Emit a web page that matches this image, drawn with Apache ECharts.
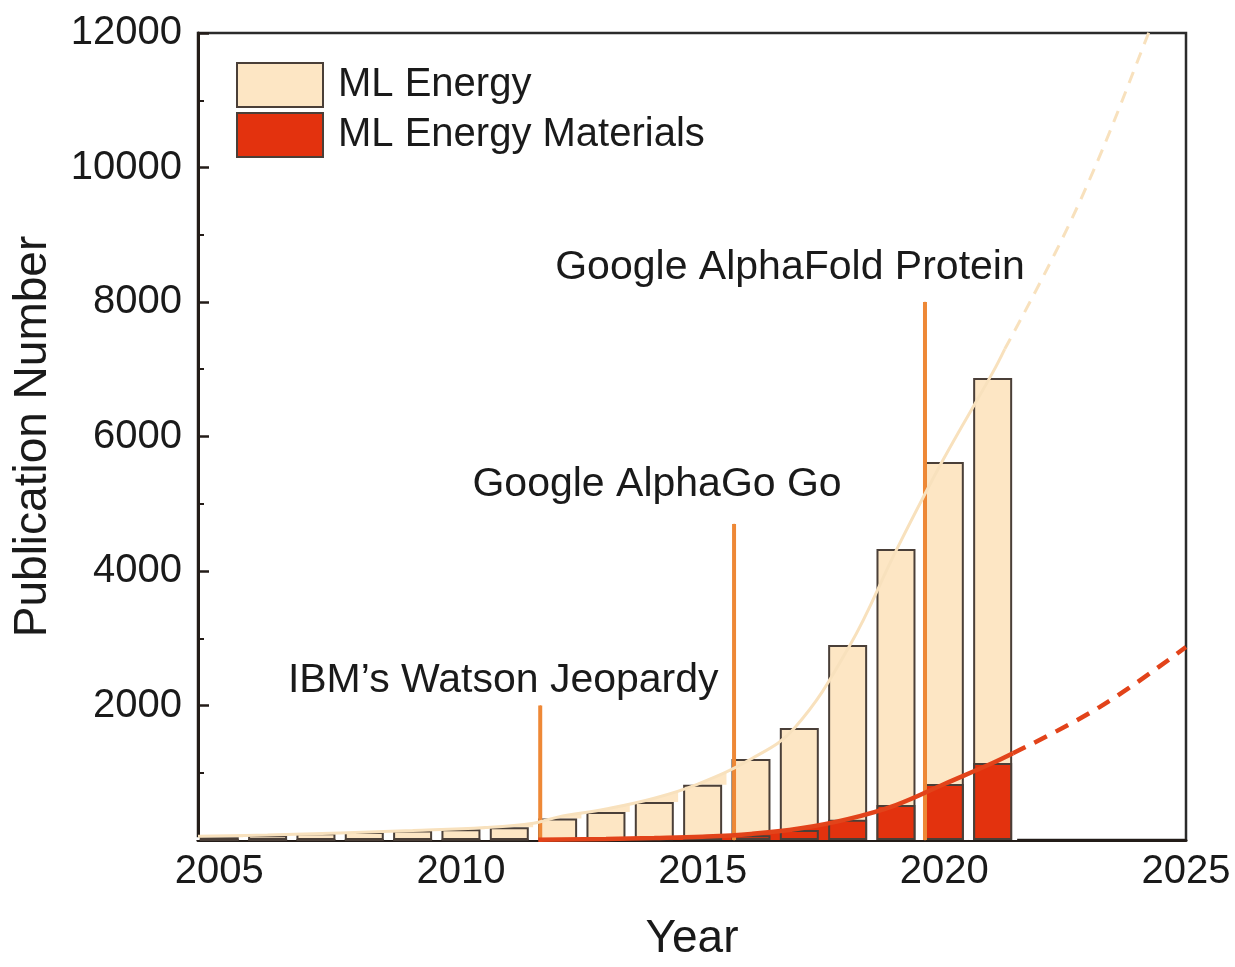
<!DOCTYPE html>
<html><head><meta charset="utf-8">
<script src="https://cdn.jsdelivr.net/npm/echarts@6/dist/echarts.min.js"></script>
<style>html,body{margin:0;padding:0;background:#fff}#c{width:1235px;height:967px}</style>
</head><body><div id="c"></div>
<script>
// ---- data ----
const years = [2005, 2006, 2007, 2008, 2009, 2010, 2011, 2012, 2013, 2014, 2015, 2016, 2017, 2018, 2019, 2020, 2021];
const mlEnergy = [40, 70, 100, 120, 140, 160, 190, 320, 416, 565, 820, 1204, 1665, 2900, 4327, 5620, 6870];
const mlEnergyMaterials = [0, 0, 0, 0, 0, 4, 6, 10, 15, 25, 42, 70, 150, 300, 520, 833, 1145];

const energyFitYears = [2004.56, 2006, 2007.5, 2009, 2010.5, 2011.5, 2012, 2013, 2014, 2014.9, 2016, 2016.9, 2018.05, 2019, 2019.95, 2021, 2021.25];
const energyFitValues = [55, 75, 105, 140, 185, 250, 340, 460, 620, 830, 1204, 1665, 2900, 4300, 5620, 6950, 7300];
const energyTrendYears = [2021.25, 2022.75, 2024.21, 2024.5];
const energyTrendValues = [7300, 9410, 11970, 12600];

const materialsFitYears = [2011.6, 2013, 2014, 2015, 2016, 2017, 2018, 2019, 2020, 2021, 2021.42];
const materialsFitValues = [5, 15, 28, 48, 90, 170, 310, 520, 833, 1145, 1290];
const materialsTrendYears = [2021.42, 2023.22, 2025];
const materialsTrendValues = [1290, 1980, 2870];

const eventNames = ['IBM\u2019s Watson Jeopardy', 'Google AlphaGo Go', 'Google AlphaFold Protein'];
const eventYears = [2011.64, 2015.65, 2019.6];
const eventTops = [2000, 4700, 8000];

const xTickYears = [2005, 2010, 2015, 2020, 2025];
const yTickValues = [2000, 4000, 6000, 8000, 10000, 12000];

// ---- styles ----
const FONT = 'Liberation Sans, Arial, sans-serif';
const TXT = '#1a1a1a';
const AX = '#231c18';
const BEIGE = '#fde6c4';
const BEIGE_LINE = '#f8e1bd';
const RED = '#e3320e';
const RED_LINE = '#e2431a';
const ORANGE = '#ee8836';
const BORDER = '#4a3f38';
const eventLabelOffsets = [[-37, -4], [-77, -18], [-135, -13]];

const zip = (xs, ys) => xs.map((x, i) => [x, ys[i]]);
const energyFit = zip(energyFitYears, energyFitValues);
const materialsFit = zip(materialsFitYears, materialsFitValues);

const series = [
  { type: 'line', name: 'energyArea', xAxisIndex: 0, data: energyFit.filter(p => p[0] <= 2016),
    smooth: 0.4, symbol: 'none', lineStyle: { width: 0 }, areaStyle: { color: BEIGE, opacity: 1 }, z: 1, silent: true },
  { type: 'bar', name: 'backing', xAxisIndex: 1, data: zip(years, mlEnergy), barWidth: 49,
    itemStyle: { color: '#ffffff' }, z: 2, silent: true },
  { type: 'bar', name: 'ML Energy', xAxisIndex: 0, data: zip(years, mlEnergy), barWidth: 39, barGap: '-100%',
    itemStyle: { color: BEIGE, borderColor: BORDER, borderWidth: 2 }, z: 3 },
  { type: 'line', name: 'materialsArea', xAxisIndex: 0, data: materialsFit.filter(p => p[0] <= 2018),
    smooth: 0.4, symbol: 'none', lineStyle: { width: 0 }, areaStyle: { color: RED, opacity: 1 }, z: 4, silent: true },
  { type: 'bar', name: 'ML Energy Materials', xAxisIndex: 0, data: zip(years, mlEnergyMaterials), barWidth: 39, barGap: '-100%',
    itemStyle: { color: RED, borderColor: BORDER, borderWidth: 2 }, z: 5 },
];

eventYears.forEach((y, i) => {
  series.push({
    type: 'line', name: 'event' + i, xAxisIndex: 0, z: 6, silent: true,
    symbol: 'circle', symbolSize: 1, itemStyle: { color: ORANGE },
    lineStyle: { color: ORANGE, width: 4 },
    data: [
      { value: [y, 0] },
      { value: [y, eventTops[i]],
        label: { show: true, position: 'top', distance: 0, offset: eventLabelOffsets[i],
                 formatter: eventNames[i], fontSize: 41, fontFamily: FONT, color: TXT } }
    ]
  });
});

series.push(
  { type: 'line', name: 'energyFit', xAxisIndex: 0, data: energyFit, smooth: 0.4, symbol: 'none',
    lineStyle: { color: BEIGE_LINE, width: 3 }, z: 7, silent: true },
  { type: 'line', name: 'energyTrend', xAxisIndex: 0, data: zip(energyTrendYears, energyTrendValues), smooth: 0.4, symbol: 'none',
    lineStyle: { color: BEIGE_LINE, width: 3, type: [12, 9] }, z: 7, silent: true },
  { type: 'line', name: 'materialsFit', xAxisIndex: 0, data: materialsFit, smooth: 0.4, symbol: 'none',
    lineStyle: { color: RED_LINE, width: 4.5 }, z: 8, silent: true },
  { type: 'line', name: 'materialsTrend', xAxisIndex: 0, data: zip(materialsTrendYears, materialsTrendValues), smooth: 0.4, symbol: 'none',
    lineStyle: { color: RED_LINE, width: 4.5, type: [14, 10] }, z: 8, silent: true }
);

const chart = echarts.init(document.getElementById('c'), null, { renderer: 'canvas' });
chart.setOption({
  animation: false,
  backgroundColor: '#ffffff',
  textStyle: { fontFamily: FONT },
  grid: { left: 198, right: 49, top: 33, bottom: 127, show: true, borderColor: '#2b2b2b', borderWidth: 2.5, backgroundColor: '#ffffff' },
  legend: {
    data: ['ML Energy', 'ML Energy Materials'], orient: 'vertical', left: 236, top: 62, padding: 0,
    itemWidth: 86, itemHeight: 44, itemGap: 4, icon: 'rect', selectedMode: false,
    textStyle: { fontSize: 40, color: TXT, fontFamily: FONT, padding: [0, 0, 0, 10] },
    itemStyle: { borderColor: BORDER, borderWidth: 2 }
  },
  xAxis: [
    { type: 'value', min: 2004.56, max: 2025, position: 'bottom',
      axisLine: { show: true, lineStyle: { color: AX, width: 3 } },
      axisTick: { show: false }, splitLine: { show: false },
      axisLabel: { customValues: xTickYears, formatter: v => String(v), fontSize: 40, color: TXT, fontFamily: FONT, margin: 12 },
      name: 'Year', nameLocation: 'middle', nameGap: 76,
      nameTextStyle: { fontSize: 46, color: TXT, fontFamily: FONT } },
    { type: 'value', min: 2004.56, max: 2025, show: false }
  ],
  yAxis: {
    type: 'value', min: 0, max: 12000, interval: 2000,
    axisLine: { show: true, lineStyle: { color: AX, width: 3 } },
    axisTick: { show: true, inside: true, length: 11, lineStyle: { color: AX, width: 2.5 } },
    minorTick: { show: true, splitNumber: 2, length: 6, lineStyle: { color: AX, width: 2 } },
    splitLine: { show: false },
    axisLabel: { customValues: yTickValues, formatter: v => String(v), fontSize: 40, color: TXT, fontFamily: FONT, margin: 16 },
    name: 'Publication Number', nameLocation: 'middle', nameGap: 142,
    nameTextStyle: { fontSize: 46, color: TXT, fontFamily: FONT }
  },
  series: series
});
</script>
</body></html>
